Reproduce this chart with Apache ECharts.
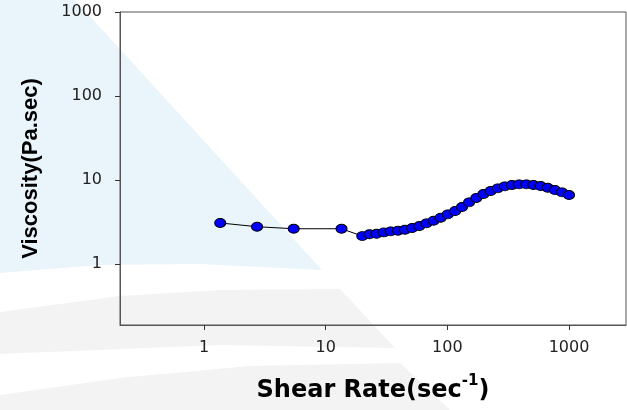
<!DOCTYPE html>
<html>

<head>
    <meta charset="utf-8" />
    <script src="https://cdn.jsdelivr.net/npm/echarts@6/dist/echarts.min.js"></script>
    <title>Viscosity vs Shear Rate</title>
    <style>
        html, body {
            margin: 0;
            padding: 0;
            background: #fff;
        }

        #main {
            width: 627px;
            height: 410px;
        }
    </style>
</head>

<body>
    <div id="main"></div>
    <script type="text/javascript">
        // shear rate (1/s) and viscosity (Pa.s)
        var shearRate = [1.36, 2.73, 5.46, 13.5,
            20.0, 22.9, 26.2, 30.0, 34.3, 39.3, 44.9, 51.4, 58.9, 67.4,
            77.1, 88.2, 101, 116, 132, 151, 173, 198, 227, 260,
            297, 340, 389, 446, 510, 584, 668, 765, 875, 1000];
        var viscosity = [3.08, 2.78, 2.63, 2.63,
            2.15, 2.26, 2.29, 2.38, 2.45, 2.49, 2.56, 2.68, 2.83, 3.05,
            3.28, 3.56, 3.90, 4.27, 4.77, 5.42, 6.11, 6.81, 7.39, 7.96,
            8.41, 8.72, 8.88, 8.88, 8.72, 8.48, 8.09, 7.60, 7.13, 6.63];
        var xTicks = [1, 10, 100, 1000];
        var yTicks = [1, 10, 100, 1000];

        var points = shearRate.map(function(x, i) {
            return [x, viscosity[i]];
        });

        function tickLabel(list) {
            return function(v) {
                for (var i = 0; i < list.length; i++) {
                    if (Math.abs(v - list[i]) / list[i] < 1e-6) return String(list[i]);
                }
                return '';
            };
        }

        var chart = echarts.init(document.getElementById('main'), null, { renderer: 'canvas' });

        var option = {
            animation: false,
            backgroundColor: '#fff',
            // faint watermark shapes behind the plot
            graphic: [{
                type: 'polygon',
                z: -10,
                silent: true,
                shape: { points: [[0, 0], [75, 0], [322, 270], [200, 264], [100, 265], [0, 273]] },
                style: { fill: '#eaf5fb' }
            }, {
                type: 'polygon',
                z: -10,
                silent: true,
                shape: { points: [[0, 312], [120, 296], [220, 290], [340, 289], [395, 348], [220, 345], [0, 354]] },
                style: { fill: '#f3f3f3' }
            }, {
                type: 'polygon',
                z: -10,
                silent: true,
                shape: { points: [[0, 395], [120, 378], [250, 366], [400, 363], [450, 410], [0, 410]] },
                style: { fill: '#f3f3f3' }
            }],
            grid: {
                left: 120,
                top: 12,
                right: 1,
                bottom: 85,
                show: true,
                backgroundColor: 'transparent',
                borderColor: '#555',
                borderWidth: 1
            },
            xAxis: {
                type: 'log',
                logBase: 10,
                min: 0.204,
                max: 2940,
                name: '{a|Shear Rate(sec}{b|-1}{a|)}',
                nameLocation: 'middle',
                nameGap: 49,
                nameTextStyle: {
                    rich: {
                        a: {
                            fontFamily: 'DejaVu Sans',
                            fontWeight: 'bold',
                            fontSize: 24,
                            lineHeight: 33,
                            color: '#000'
                        },
                        b: {
                            fontFamily: 'DejaVu Sans',
                            fontWeight: 'bold',
                            fontSize: 15,
                            verticalAlign: 'top',
                            color: '#000'
                        }
                    }
                },
                axisLine: { lineStyle: { color: '#555', width: 1 } },
                axisTick: { length: 5, lineStyle: { color: '#333' } },
                axisLabel: {
                    margin: 15,
                    fontFamily: 'DejaVu Sans',
                    fontSize: 16,
                    color: '#222',
                    showMinLabel: false,
                    showMaxLabel: false,
                    formatter: tickLabel(xTicks)
                },
                splitLine: { show: false },
                minorTick: { show: false }
            },
            yAxis: {
                type: 'log',
                logBase: 10,
                min: 0.188,
                max: 1000,
                name: 'Viscosity(Pa.sec)',
                nameLocation: 'middle',
                nameGap: 78,
                nameTextStyle: {
                    fontFamily: 'Liberation Sans',
                    fontWeight: 'bold',
                    fontSize: 22,
                    color: '#000'
                },
                axisLine: { lineStyle: { color: '#555', width: 1 } },
                axisTick: { length: 5, lineStyle: { color: '#333' } },
                axisLabel: {
                    margin: 18,
                    fontFamily: 'DejaVu Sans',
                    fontSize: 16,
                    color: '#222',
                    showMinLabel: false,
                    formatter: tickLabel(yTicks)
                },
                splitLine: { show: false }
            },
            series: [{
                type: 'line',
                data: points,
                symbol: 'circle',
                symbolSize: [11, 9],
                showAllSymbol: true,
                lineStyle: { color: '#000', width: 1 },
                itemStyle: {
                    color: '#0000ff',
                    borderColor: '#000',
                    borderWidth: 1
                }
            }]
        };

        chart.setOption(option);
    </script>
</body>

</html>
